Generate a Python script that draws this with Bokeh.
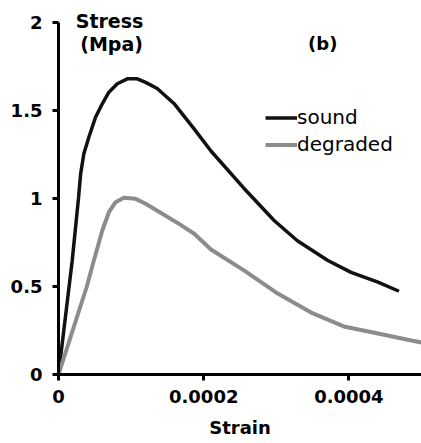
from bokeh.plotting import figure
from bokeh.models import Range1d, FixedTicker, Label, Legend, LegendItem
from bokeh.embed import file_html
from bokeh.resources import INLINE

# Data
sound_strain = [0, 0.0000189, 0.0000275, 0.0000305, 0.0000349, 0.0000418, 0.000051, 0.0000603,
                0.0000694, 0.000081, 0.0000947, 0.0001085, 0.00012, 0.000136, 0.000159,
                0.000186, 0.00021, 0.000255, 0.000297, 0.000329, 0.000371, 0.000403,
                0.00044, 0.000469]
sound_stress = [0, 0.648, 1.0, 1.14, 1.254, 1.348, 1.462, 1.538, 1.604, 1.652, 1.68, 1.68,
                1.66, 1.625, 1.54, 1.40, 1.27, 1.06, 0.875, 0.76, 0.648, 0.58, 0.525, 0.473]

degraded_strain = [0, 0.000039, 0.0000487, 0.0000603, 0.0000694, 0.0000786, 0.00009,
                   0.0001062, 0.00012, 0.000143, 0.000166, 0.000187, 0.00021, 0.000256,
                   0.000302, 0.000348, 0.000393, 0.00044, 0.000486, 0.0005]
degraded_stress = [0, 0.5, 0.648, 0.818, 0.922, 0.979, 1.004, 0.998, 0.97, 0.913, 0.856,
                   0.80, 0.71, 0.59, 0.46, 0.352, 0.273, 0.233, 0.193, 0.182]

x_ticks = [0, 0.0002, 0.0004]
x_tick_labels = ["0", "0.0002", "0.0004"]
y_ticks = [0, 0.5, 1, 1.5, 2]
y_tick_labels = ["0", "0.5", "1", "1.5", "2"]

FONT = "DejaVu Sans"

p = figure(width=421, height=443, output_backend="svg", toolbar_location=None,
           x_range=Range1d(0, 0.0005), y_range=Range1d(0, 2.125),
           min_border_left=58, min_border_right=0, min_border_top=0, min_border_bottom=69)
p.outline_line_color = None
p.grid.visible = False
p.background_fill_color = "white"

r_sound = p.line(sound_strain, sound_stress, line_color="#111111", line_width=3.5)
r_deg = p.line(degraded_strain, degraded_stress, line_color="#8c8c8c", line_width=4)

for ax in (p.xaxis[0], p.yaxis[0]):
    ax.axis_line_width = 3
    ax.axis_line_color = "black"
    ax.major_tick_line_width = 3
    ax.major_tick_line_color = "black"
    ax.major_tick_out = 6
    ax.major_tick_in = 0
    ax.minor_tick_line_color = None
    ax.major_label_text_font = FONT
    ax.major_label_text_font_style = "bold"
    ax.major_label_text_font_size = "18px"
    ax.major_label_text_color = "black"

p.yaxis[0].bounds = (0, 2)
p.xaxis[0].ticker = FixedTicker(ticks=x_ticks)
p.xaxis[0].major_label_overrides = {t: l for t, l in zip(x_ticks, x_tick_labels)}
p.yaxis[0].ticker = FixedTicker(ticks=y_ticks)
p.yaxis[0].major_label_overrides = {t: l for t, l in zip(y_ticks, y_tick_labels)}
p.xaxis[0].major_label_standoff = 9
p.yaxis[0].major_label_standoff = 10

p.xaxis[0].axis_label = "Strain"
p.xaxis[0].axis_label_text_font = FONT
p.xaxis[0].axis_label_text_font_style = "bold"
p.xaxis[0].axis_label_text_font_size = "18px"
p.xaxis[0].axis_label_text_color = "black"
p.xaxis[0].axis_label_standoff = 11

def add_label(x, y, text, size, style):
    p.add_layout(Label(x=x, y=y, text=text, text_font=FONT, text_font_style=style,
                       text_font_size=size, text_align="center", text_baseline="middle",
                       text_color="black"))

add_label(0.0000703, 2.011, "Stress", "19px", "bold")
add_label(0.0000731, 1.88, "(Mpa)", "19px", "bold")
add_label(0.000364, 1.88, "(b)", "18px", "bold")

legend = Legend(items=[LegendItem(label="sound", renderers=[r_sound]),
                       LegendItem(label="degraded", renderers=[r_deg])],
                location=(207, 216.5), orientation="vertical",
                glyph_width=32, glyph_height=27, label_height=27, label_standoff=0,
                padding=0, spacing=0, margin=0,
                border_line_alpha=0, background_fill_alpha=0,
                label_text_font=FONT, label_text_font_size="20px", label_text_color="black")
p.add_layout(legend, "center")

open("out.html", "w").write(file_html(p, INLINE))
